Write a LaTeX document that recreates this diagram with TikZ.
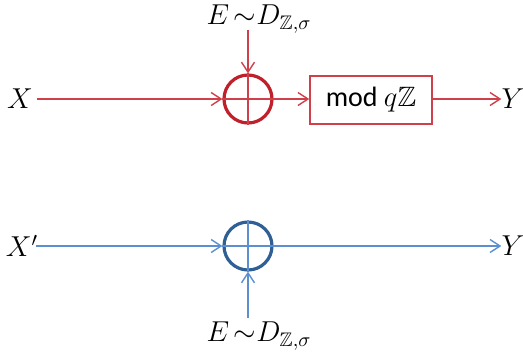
\documentclass[tikz,border=0pt]{standalone}
\usepackage{amssymb}
\usepackage{fontspec}
\setmainfont{Carlito}
\usetikzlibrary{arrows.meta}
\definecolor{redline}{HTML}{D0404A}
\definecolor{redcirc}{HTML}{C0202A}
\definecolor{blueline}{HTML}{5B8FD0}
\definecolor{bluecirc}{HTML}{2F5F95}
\begin{document}
\begin{tikzpicture}[x=0.5pt,y=-0.5pt,
  lbl/.style={font=\fontsize{14}{16}\selectfont, inner sep=0pt},
  tip/.style={-{Straight Barb[length=5pt,width=6.5pt,line width=0.7pt]}},
  conn/.style={line width=0.75pt, tip},
  plus/.style={circle, minimum size=24pt, inner sep=0pt, line width=1.6pt},
  boxnode/.style={draw=redline, line width=0.75pt, minimum width=61pt, minimum height=24pt, inner sep=0pt, font=\fontsize{14}{16}\selectfont}]
\useasboundingbox (0,0) rectangle (523,360);
% top row
\node[lbl] (x1) at (20,99) {$X$};
\node[lbl] (e1) at (259,19) {$E\,{\sim}D_{\mathbb{Z},\sigma}$};
\node[plus, draw=redcirc] (s1) at (248,99) {};
\draw[redline, line width=0.75pt] (s1.north) -- (s1.south) (s1.west) -- (s1.east);
\node[boxnode] (b1) at (371,100) {mod $q\mathbb{Z}$};
\node[lbl] (y1) at (513,99) {$Y$};
\draw[conn, redline] (37,99) -- (s1.west);
\coordinate (e1a) at (248,30);
\draw[conn, redline] (e1a) -- (s1.north);
\draw[conn, redline] (s1.east) -- (s1.east -| b1.west);
\draw[conn, redline] (b1.east |- y1) -- (y1.west);
% bottom row
\node[lbl] (x2) at (22,246) {$X'$};
\node[lbl] (e2) at (259,336) {$E\,{\sim}D_{\mathbb{Z},\sigma}$};
\node[plus, draw=bluecirc] (s2) at (248,246) {};
\draw[blueline, line width=0.75pt] (s2.north) -- (s2.south) (s2.west) -- (s2.east);
\node[lbl] (y2) at (513,246) {$Y$};
\coordinate (x2a) at (36,246);
\draw[conn, blueline] (x2a) -- (s2.west);
\coordinate (e2a) at (248,318);
\draw[conn, blueline] (e2a) -- (s2.south);
\draw[conn, blueline] (s2.east) -- (y2.west);
\end{tikzpicture}
\end{document}
